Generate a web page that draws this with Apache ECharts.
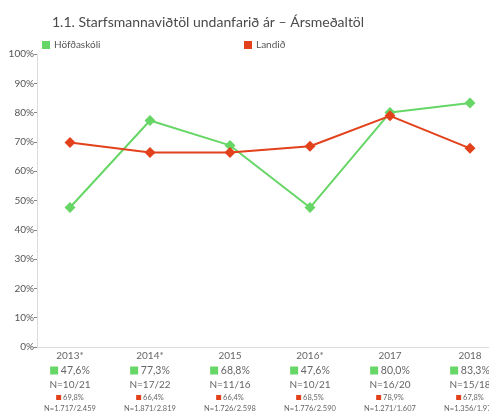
<!DOCTYPE html>
<html>
<head>
<meta charset="utf-8">
<script src="https://cdn.jsdelivr.net/npm/echarts@6/dist/echarts.min.js"></script>
<style>
  html, body { margin: 0; padding: 0; background: #fff; }
  #chart { width: 489px; height: 411px; }
</style>
</head>
<body>
<div id="chart"></div>
<script>
// Ár (years shown on the x axis)
const years = ['2013*', '2014*', '2015', '2016*', '2017', '2018'];
// Höfðaskóli: hlutfall (%) og fjöldi
const schoolPct = [47.6, 77.3, 68.8, 47.6, 80.0, 83.3];
const schoolN = ['10/21', '17/22', '11/16', '10/21', '16/20', '15/18'];
// Landið: hlutfall (%) og fjöldi
const nationPct = [69.8, 66.4, 66.4, 68.5, 78.9, 67.8];
const nationN = ['1.717/2.459', '1.871/2.819', '1.726/2.598', '1.776/2.590', '1.271/1.607', '1.356/1.978'];
// Y axis ticks
const yTicks = [0, 10, 20, 30, 40, 50, 60, 70, 80, 90, 100];

const GREEN = '#66d666';
const RED = '#e2411b';
const FONT = 'Lato, "Open Sans", sans-serif';

const fmt = v => v.toFixed(1).replace('.', ',') + '%';

const chart = echarts.init(document.getElementById('chart'));
chart.setOption({
  animation: false,
  textStyle: { fontFamily: FONT },
  title: {
    text: '1.1. Starfsmannaviðtöl undanfarið ár – Ársmeðaltöl',
    left: 47, top: 10,
    textStyle: { fontFamily: FONT, fontSize: 14, fontWeight: 'normal', color: '#4a4a4a' }
  },
  legend: [
    {
      data: ['Höfðaskóli'], left: 37, top: 35,
      itemWidth: 8, itemHeight: 8, itemGap: 4, icon: 'rect',
      textStyle: { fontSize: 10, color: '#555', padding: [0, 0, 0, -1] }
    },
    {
      data: ['Landið'], left: 239, top: 35,
      itemWidth: 8, itemHeight: 8, itemGap: 4, icon: 'rect',
      textStyle: { fontSize: 10, color: '#555', padding: [0, 0, 0, -1] }
    }
  ],
  grid: { left: 30, right: -21, top: 54, bottom: 64, containLabel: false, outerBoundsMode: 'none' },
  xAxis: {
    type: 'category',
    data: years,
    boundaryGap: true,
    axisLine: { lineStyle: { color: '#dcdcdc', width: 1 } },
    axisTick: { show: false },
    axisLabel: {
      margin: 2,
      interval: 0,
      lineHeight: 13,
      formatter: (val, i) =>
        `{y|${val}}\n{gs|}{gp| ${fmt(schoolPct[i])}}\n{n|N=${schoolN[i]}}\n{rs|}{rp| ${fmt(nationPct[i])}}\n{ns|N=${nationN[i]}}`,
      rich: {
        y: { fontSize: 10, color: '#666', lineHeight: 14 },
        gs: { backgroundColor: GREEN, width: 8, height: 8 },
        gp: { fontSize: 10.5, color: '#666', lineHeight: 15 },
        n: { fontSize: 10, color: '#666', lineHeight: 13 },
        rs: { backgroundColor: RED, width: 5, height: 5 },
        rp: { fontSize: 7.5, color: '#666', lineHeight: 11 },
        ns: { fontSize: 7.5, color: '#666', lineHeight: 10 }
      }
    }
  },
  yAxis: {
    type: 'value',
    min: yTicks[0], max: yTicks[yTicks.length - 1], interval: 10,
    offset: -7,
    axisLine: { show: true, lineStyle: { color: '#dcdcdc' } },
    axisTick: { show: true, length: 3, lineStyle: { color: '#888' } },
    axisLabel: { formatter: '{value}%', fontSize: 10, color: '#555', margin: 3 },
    splitLine: { show: false }
  },
  series: [
    {
      name: 'Höfðaskóli', type: 'line', data: schoolPct,
      symbol: 'diamond', symbolSize: 11,
      itemStyle: { color: GREEN },
      lineStyle: { color: GREEN, width: 2 }
    },
    {
      name: 'Landið', type: 'line', data: nationPct,
      symbol: 'diamond', symbolSize: 11,
      itemStyle: { color: RED },
      lineStyle: { color: RED, width: 2 }
    }
  ]
});
</script>
</body>
</html>
